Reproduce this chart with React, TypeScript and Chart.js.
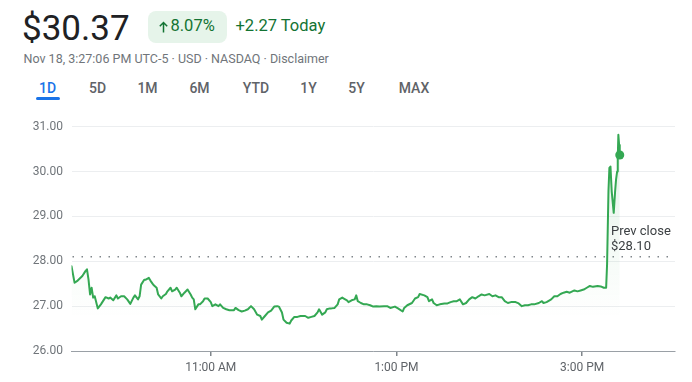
import React, { useEffect, useRef } from "react";
import { Chart, registerables } from "chart.js";

Chart.register(...registerables);

// ---- data ----
const minutesSinceOpen = [
  0, 2, 4, 7, 9, 10, 11, 12, 13, 14, 15, 17, 19, 22, 24, 25, 27, 29, 30, 32, 34, 36, 38, 40, 41, 43, 44, 45, 47, 48,
  50, 51, 52, 53, 55, 56, 58, 59, 61, 62, 64, 65, 67, 68, 70, 71, 73, 75, 77, 78, 79, 80, 82, 83, 85, 86, 88, 90, 91, 93,
  95, 96, 98, 100, 102, 105, 106, 108, 110, 112, 114, 116, 118, 120, 122, 123, 125, 127, 129, 131, 133, 134, 136, 137, 139, 141, 142, 144, 146, 148,
  151, 153, 155, 157, 159, 160, 162, 164, 165, 167, 168, 170, 172, 173, 175, 176, 178, 179, 181, 183, 184, 185, 187, 189, 191, 193, 195, 197, 199, 202,
  204, 206, 209, 211, 214, 215, 217, 220, 222, 224, 225, 228, 230, 231, 233, 234, 236, 238, 241, 243, 245, 247, 249, 251, 253, 255, 257, 259, 261, 263,
  265, 267, 270, 272, 274, 276, 278, 280, 282, 284, 287, 289, 291, 293, 295, 297, 299, 302, 304, 305, 307, 310, 312, 314, 316, 318, 320, 322, 325, 327,
  329, 331, 333, 335, 337, 340, 342, 344, 345.5, 346.1, 347.0, 347.6, 348.3, 349.1, 350.4, 351.3, 351.9, 352.6, 353.0, 353.4, 353.9, 354.3,
];
const prices = [
  27.89, 27.52, 27.57, 27.67, 27.78, 27.82, 27.59, 27.26, 27.41, 27.19, 27.22, 26.95, 27.04, 27.2, 27.17, 27.19, 27.13, 27.24, 27.17, 27.22, 27.22, 27.15, 27.05, 27.19, 27.24, 27.15, 27.22, 27.48, 27.59, 27.59,
  27.63, 27.57, 27.52, 27.47, 27.41, 27.26, 27.17, 27.22, 27.27, 27.33, 27.41, 27.33, 27.37, 27.41, 27.3, 27.22, 27.3, 27.37, 27.26, 27.19, 27.15, 26.93, 27.04, 27.04, 27.11, 27.17, 27.17, 27.09, 27.0, 27.04,
  27.0, 27.04, 26.96, 26.93, 26.91, 26.91, 26.96, 26.91, 26.88, 26.9, 26.93, 27.0, 26.93, 26.81, 26.78, 26.7, 26.78, 26.86, 26.9, 26.99, 27.0, 26.99, 26.86, 26.7, 26.63, 26.61, 26.68, 26.76, 26.76, 26.78,
  26.78, 26.74, 26.76, 26.78, 26.86, 26.93, 26.81, 26.86, 26.93, 26.95, 26.95, 26.96, 27.04, 27.15, 27.19, 27.17, 27.13, 27.09, 27.13, 27.15, 27.24, 27.11, 27.07, 27.04, 27.04, 27.02, 26.99, 27.0, 26.99, 27.0,
  27.0, 26.96, 26.99, 26.95, 26.88, 26.96, 27.02, 27.07, 27.17, 27.2, 27.27, 27.24, 27.2, 27.11, 27.15, 27.07, 27.02, 27.04, 27.06, 27.06, 27.09, 27.11, 27.11, 27.15, 27.04, 27.07, 27.15, 27.2, 27.17, 27.22,
  27.26, 27.24, 27.27, 27.22, 27.24, 27.2, 27.2, 27.11, 27.07, 27.09, 27.09, 27.06, 27.0, 27.02, 27.02, 27.04, 27.04, 27.07, 27.11, 27.07, 27.09, 27.15, 27.22, 27.22, 27.27, 27.3, 27.32, 27.3, 27.35, 27.33,
  27.35, 27.37, 27.41, 27.45, 27.43, 27.45, 27.44, 27.41, 27.41, 27.93, 29.56, 30.08, 30.11, 29.56, 29.08, 29.56, 29.82, 30.0, 30.3, 30.82, 30.59, 30.37,
];
const prevClose = 28.1;
const yTickValues = [26, 27, 28, 29, 30, 31];
const xTickMinutes = [90, 210, 330];
const xTickLabels = ["11:00 AM", "1:00 PM", "3:00 PM"];
const tabLabels = ["1D", "5D", "1M", "6M", "YTD", "1Y", "5Y", "MAX"];
const tabCenters = [47.5, 97.5, 147.5, 199.5, 256, 308.5, 356.5, 414];

const FONT = "Roboto, Arial, sans-serif";
const GREEN_LINE = "#34a853";
const GREEN_TEXT = "#137333";

function Txt(props: { x: number; baseline: number; size: number; weight?: number; color: string; children: any; ls?: number }) {
  const { x, baseline, size, weight = 400, color, children, ls = 0 } = props;
  return (
    <div
      style={{
        position: "absolute",
        left: x,
        top: baseline - 0.928 * size,
        fontFamily: FONT,
        fontSize: size,
        fontWeight: weight,
        lineHeight: `${1.172 * size}px`,
        color,
        whiteSpace: "nowrap",
        letterSpacing: ls,
      }}
    >
      {children}
    </div>
  );
}

const prevClosePlugin = {
  id: "prevClose",
  beforeDatasetsDraw(chart: any) {
    const { ctx, chartArea, scales } = chart;
    const py = scales.y.getPixelForValue(prevClose);
    ctx.save();
    ctx.strokeStyle = "#80868b";
    ctx.lineWidth = 1.5;
    ctx.setLineDash([1.5, 7.5]);
    ctx.beginPath();
    ctx.moveTo(chartArea.left + 1, py);
    ctx.lineTo(chartArea.right, py);
    ctx.stroke();
    ctx.restore();
  },
  afterDatasetsDraw(chart: any) {
    const { ctx, chartArea, scales } = chart;
    const py = scales.y.getPixelForValue(prevClose);
    ctx.save();
    ctx.fillStyle = "#3c4043";
    ctx.font = `13px ${FONT}`;
    ctx.textAlign = "left";
    ctx.textBaseline = "alphabetic";
    const lx = chartArea.right - 64;
    ctx.fillText("Prev close", lx, py - 21.7);
    ctx.fillText("$" + prevClose.toFixed(2), lx, py - 6.7);
    ctx.restore();
  },
};

function PriceChart() {
  const ref = useRef<HTMLCanvasElement | null>(null);
  useEffect(() => {
    if (!ref.current) return;
    const last = prices.length - 1;
    const chart = new Chart(ref.current, {
      type: "line",
      data: {
        datasets: [
          {
            data: minutesSinceOpen.map((m, i) => ({ x: m, y: prices[i] })),
            borderColor: GREEN_LINE,
            borderWidth: 2,
            borderJoinStyle: "round",
            borderCapStyle: "round",
            tension: 0,
            pointRadius: (c: any) => (c.dataIndex === last ? 4.5 : 0),
            pointHoverRadius: 0,
            pointBackgroundColor: GREEN_LINE,
            pointBorderWidth: 0,
            fill: "start",
            backgroundColor: (c: any) => {
              const ca = c.chart.chartArea;
              if (!ca) return "rgba(0,0,0,0)";
              const g = c.chart.ctx.createLinearGradient(0, ca.top, 0, ca.bottom);
              g.addColorStop(0, "rgba(52,168,83,0.15)");
              g.addColorStop(0.85, "rgba(52,168,83,0)");
              g.addColorStop(1, "rgba(52,168,83,0)");
              return g;
            },
          } as any,
        ],
      },
      options: {
        animation: false,
        responsive: false,
        maintainAspectRatio: false,
        layout: { padding: { top: 16.7, right: 17, left: 0, bottom: 0 } },
        plugins: { legend: { display: false }, tooltip: { enabled: false } },
        scales: {
          x: {
            type: "linear",
            min: 0,
            max: 390,
            afterBuildTicks: (s: any) => {
              s.ticks = xTickMinutes.map((v) => ({ value: v }));
            },
            afterFit: (s: any) => {
              s.height = 31;
            },
            grid: { drawOnChartArea: false, drawTicks: true, tickLength: 5, color: "#80868b", lineWidth: 1.5 },
            border: { display: true, color: "#9aa0a6", width: 1 },
            ticks: {
              autoSkip: false,
              maxRotation: 0,
              padding: 5,
              color: "#5f6368",
              font: { family: FONT, size: 12 },
              callback: (v: any) => {
                const i = xTickMinutes.indexOf(Number(v));
                return i >= 0 ? xTickLabels[i] : "";
              },
            },
          },
          y: {
            min: 26,
            max: 31,
            afterBuildTicks: (s: any) => {
              s.ticks = yTickValues.map((v) => ({ value: v }));
            },
            afterFit: (s: any) => {
              s.width = 71.5;
            },
            grid: {
              drawTicks: false,
              color: (c: any) => (c.tick && c.tick.value === 26 ? "rgba(0,0,0,0)" : "#eceef0"),
            },
            border: { display: false },
            ticks: {
              padding: 8.5,
              color: "#70757a",
              font: { family: FONT, size: 12 },
              callback: (v: any) => Number(v).toFixed(2),
            },
          },
        },
      } as any,
      plugins: [prevClosePlugin],
    });
    return () => chart.destroy();
  }, []);
  return <canvas ref={ref} width={692} height={272} style={{ position: "absolute", left: 0, top: 110, width: 692, height: 272 }} />;
}

export default function App() {
  return (
    <div style={{ position: "fixed", left: 0, top: 0, width: 692, height: 382, background: "#fff", overflow: "hidden" }}>
      <Txt x={22} baseline={40} size={35} color="#202124">$30.37</Txt>
      <div
        style={{
          position: "absolute",
          left: 148,
          top: 11,
          width: 78.5,
          height: 31.5,
          borderRadius: 8,
          background: "#e6f4ea",
        }}
      />
      <svg style={{ position: "absolute", left: 158.5, top: 20.5 }} width={9} height={12} viewBox="0 0 9 12">
        <path d="M4.5 11.5 V1.5 M0.8 5.2 L4.5 1.5 L8.2 5.2" stroke={GREEN_TEXT} strokeWidth={1.5} fill="none" />
      </svg>
      <Txt x={170.5} baseline={31.7} size={16.5} weight={400} color={GREEN_TEXT}>8.07%</Txt>
      <Txt x={235.5} baseline={31.7} size={16.5} weight={400} color={GREEN_TEXT}>+2.27 Today</Txt>
      <Txt x={23.5} baseline={63.3} size={12.5} color="#70757a">Nov 18, 3:27:06 PM UTC-5 · USD · NASDAQ · Disclaimer</Txt>
      {tabLabels.map((t, i) => (
        <div
          key={t}
          style={{
            position: "absolute",
            left: tabCenters[i] - 30,
            width: 60,
            top: 92.7 - 0.928 * 14,
            textAlign: "center",
            fontFamily: FONT,
            fontSize: 14,
            fontWeight: 500,
            lineHeight: `${1.172 * 14}px`,
            color: i === 0 ? "#1a73e8" : "#5f6368",
          }}
        >
          {t}
        </div>
      ))}
      <div style={{ position: "absolute", left: 36, top: 96.5, width: 24, height: 3, borderRadius: 2, background: "#1a73e8" }} />
      <PriceChart />
    </div>
  );
}
